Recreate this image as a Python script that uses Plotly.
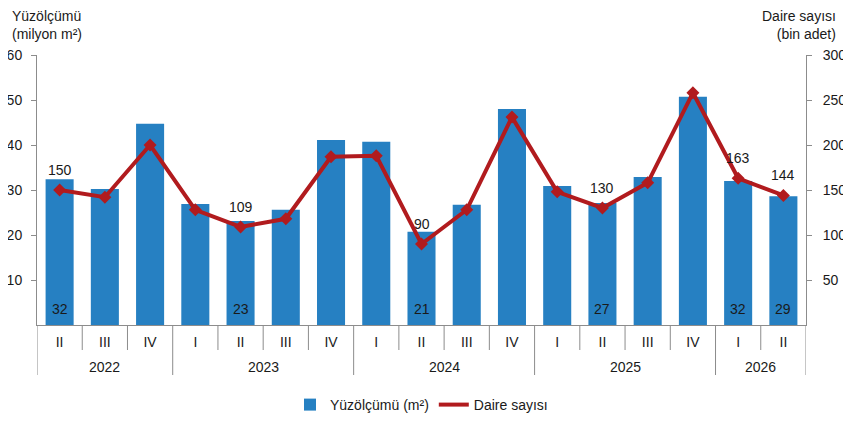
import plotly.graph_objects as go

years = ["2022", "2022", "2022", "2023", "2023", "2023", "2023",
         "2024", "2024", "2024", "2024", "2025", "2025", "2025", "2025",
         "2026", "2026"]
quarters = ["II", "III", "IV", "I", "II", "III", "IV",
            "I", "II", "III", "IV", "I", "II", "III", "IV",
            "I", "II"]
area = [32.4, 30.2, 44.7, 26.9, 23.1, 25.6, 41.1, 40.7, 20.7, 26.7, 48.0,
        30.9, 27.1, 32.9, 50.7, 32.0, 28.6]
dwellings = [150, 142, 200, 128, 109, 118, 187, 188, 90, 128, 231,
             148, 130, 158, 258, 163, 144]
labelled = [0, 4, 8, 12, 15, 16]

keys = [f"{y} {q}" for y, q in zip(years, quarters)]

FONT = "Liberation Sans, Arial, sans-serif"
RED = "#B11B1E"
BLUE = "#2680C2"
GREY = "#8c8c8c"
TXT = "#1a1a1a"

fig = go.Figure()
fig.add_trace(go.Bar(
    x=keys, y=area, name="Yüzölçümü (m²)",
    marker=dict(color=BLUE, line=dict(width=0)),
))
fig.add_trace(go.Scatter(
    x=keys, y=dwellings, name="Daire sayısı", yaxis="y2",
    mode="lines", line=dict(color=RED, width=4), cliponaxis=False,
))
fig.add_trace(go.Scatter(
    x=keys, y=dwellings, yaxis="y2", showlegend=False, mode="markers",
    marker=dict(symbol="diamond", size=10, color=RED), cliponaxis=False,
))

n = len(keys)
shapes = []
ann = []
# category dividers below the axis
for i in range(n + 1):
    boundary_year = i == 0 or i == n or years[i] != years[i - 1]
    depth = 50 / 270 if boundary_year else 25 / 270
    shapes.append(dict(type="line", xref="x", yref="paper",
                       x0=i - 0.5, x1=i - 0.5, y0=0, y1=-depth,
                       line=dict(color=GREY, width=1)))
# year labels centred on their groups
for y in dict.fromkeys(years):
    idx = [i for i, yy in enumerate(years) if yy == y]
    ann.append(dict(text=y, xref="x", yref="paper",
                    x=(idx[0] + idx[-1]) / 2, y=-42 / 270,
                    xanchor="center", yanchor="middle", showarrow=False,
                    font=dict(size=14)))
# value labels
for i in labelled:
    ann.append(dict(text=f"{round(area[i])}", xref="x", yref="y",
                    x=keys[i], y=0, yanchor="bottom", yshift=6,
                    showarrow=False, font=dict(size=14, color=TXT)))
    ann.append(dict(text=f"{dwellings[i]}", xref="x", yref="y2",
                    x=keys[i], y=dwellings[i], yanchor="middle", yshift=20,
                    showarrow=False, font=dict(size=14, color=TXT)))

ann += [
    dict(text="Yüzölçümü<br>(milyon m²)", xref="paper", yref="paper",
         x=-0.035, y=1.04, xanchor="left", yanchor="bottom", showarrow=False,
         align="left", font=dict(size=14)),
    dict(text="Daire sayısı<br>(bin adet)", xref="paper", yref="paper",
         x=1.042, y=1.04, xanchor="right", yanchor="bottom", showarrow=False,
         align="right", font=dict(size=14)),
]

fig.update_layout(
    width=843, height=427,
    margin=dict(l=29, r=45, t=47, b=110),
    plot_bgcolor="white", paper_bgcolor="white",
    font=dict(family=FONT, size=14, color=TXT),
    bargap=0.38,
    showlegend=True,
    legend=dict(orientation="h", x=0.5, xanchor="center", y=-80 / 270,
                yanchor="middle", font=dict(size=14), traceorder="normal"),
    xaxis=dict(
        type="category", range=[-0.5, n - 0.5], showline=True,
        linecolor=GREY, linewidth=1, ticks="", showgrid=False,
        tickvals=keys, ticktext=quarters, tickfont=dict(size=14),
        ticklabelstandoff=4, automargin=False,
    ),
    yaxis=dict(
        range=[0, 60], tickvals=[10, 20, 30, 40, 50, 60], showline=True,
        linecolor=GREY, linewidth=1, ticks="outside", ticklen=5,
        tickcolor=GREY, showgrid=False, zeroline=False, tickfont=dict(size=14),
        ticklabelstandoff=6, automargin=False,
    ),
    yaxis2=dict(
        range=[0, 300], tickvals=[50, 100, 150, 200, 250, 300], overlaying="y",
        side="right", showline=True, linecolor=GREY, linewidth=1,
        ticks="outside", ticklen=5, tickcolor=GREY, showgrid=False,
        zeroline=False, tickfont=dict(size=14), ticklabelstandoff=8,
        automargin=False,
    ),
    shapes=shapes,
    annotations=ann,
)

fig.write_html("out.html")
